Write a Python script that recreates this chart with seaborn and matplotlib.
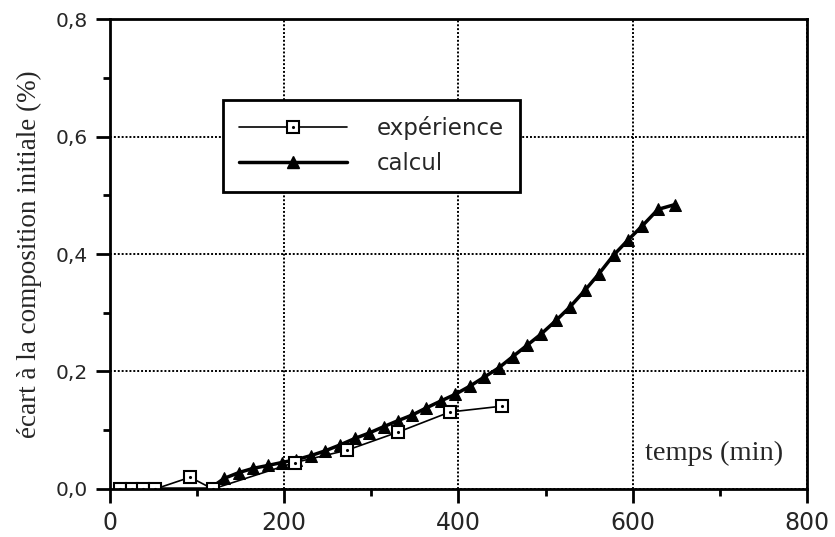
import matplotlib
matplotlib.use("Agg")
import matplotlib.pyplot as plt
from matplotlib.lines import Line2D
from matplotlib.ticker import MultipleLocator, FuncFormatter
import seaborn as sns

# Données
temps_exp = [12, 25, 38, 52, 92, 118, 212, 272, 331, 390, 450]
ecart_exp = [0.0, 0.0, 0.0, 0.0, 0.02, 0.0, 0.045, 0.066, 0.097, 0.131, 0.141]

temps_calc = [12, 30, 48, 114, 131, 148, 164, 181, 197, 214, 231, 247, 264, 281, 297,
              314, 330, 347, 363, 380, 396, 413, 429, 446, 462, 479, 495, 512,
              528, 545, 561, 578, 594, 611, 629, 648]
ecart_calc = [0.0, 0.0, 0.0, 0.0, 0.018, 0.028, 0.035, 0.04, 0.045, 0.05, 0.057, 0.065,
              0.075, 0.086, 0.095, 0.106, 0.116, 0.126, 0.138, 0.15, 0.161, 0.175,
              0.19, 0.206, 0.225, 0.245, 0.264, 0.287, 0.31, 0.338, 0.366, 0.398,
              0.423, 0.448, 0.476, 0.484]

sns.set_theme(style="white")
plt.rcParams['font.family'] = ['DejaVu Sans']

fig, ax = plt.subplots(figsize=(8.35, 5.37), dpi=100)
fig.subplots_adjust(left=0.1317, right=0.9665, top=0.9646, bottom=0.0894)

# courbe calculée
sns.lineplot(x=temps_calc, y=ecart_calc, ax=ax, color='black', linewidth=2.5,
             marker='^', markersize=9, markeredgecolor='black', sort=False)
# points expérimentaux
sns.lineplot(x=temps_exp, y=ecart_exp, ax=ax, color='black', linewidth=1.2,
             marker='s', markersize=8, markerfacecolor='white',
             markeredgecolor='black', markeredgewidth=1.5, sort=False)
ax.plot(temps_exp, ecart_exp, linestyle='none', marker='.', markersize=2.5, color='black')

ax.set_xlim(0, 800)
ax.set_ylim(0, 0.8)
ax.xaxis.set_major_locator(MultipleLocator(200))
ax.xaxis.set_minor_locator(MultipleLocator(100))
ax.yaxis.set_major_locator(MultipleLocator(0.2))
ax.yaxis.set_minor_locator(MultipleLocator(0.1))
ax.yaxis.set_major_formatter(FuncFormatter(lambda v, p: f"{v:.1f}".replace('.', ',')))

ax.grid(True, which='major', color='black', linestyle=(0, (1, 1)), linewidth=1.4)
for s in ax.spines.values():
    s.set_color('black')
    s.set_linewidth(2)
ax.tick_params(which='major', direction='out', length=10, width=2, color='black')
ax.tick_params(which='minor', direction='out', length=5, width=2, color='black')
ax.tick_params(axis='x', which='both', bottom=True, top=False, labelsize=17, pad=6)
ax.tick_params(axis='y', which='both', left=True, right=False, labelsize=14.5, pad=6)

ax.set_ylabel("écart à la composition initiale (%)", family=['Liberation Serif'],
              fontsize=19.5, labelpad=10)
ax.set_xlabel("")
ax.text(0.965, 0.075, "temps (min)", transform=ax.transAxes, ha='right', va='center',
        family=['Liberation Serif'], fontsize=20.5)

h_exp = (Line2D([], [], color='black', linewidth=1.2, marker='s', markersize=8,
                markerfacecolor='white', markeredgecolor='black', markeredgewidth=1.5),
         Line2D([], [], linestyle='none', marker='.', markersize=2.5, color='black'))
h_calc = Line2D([], [], color='black', linewidth=2.5, marker='^', markersize=9)
leg = ax.legend([h_exp, h_calc], ["expérience", "calcul"], loc='upper left',
                bbox_to_anchor=(0.162, 0.828), fontsize=16.5, frameon=True, fancybox=False,
                handlelength=4.7, handletextpad=1.3, borderpad=0.7, labelspacing=0.55,
                borderaxespad=0)
leg.get_frame().set_edgecolor('black')
leg.get_frame().set_linewidth(2)
leg.get_frame().set_alpha(1)

fig.savefig("out.png", dpi=100)
